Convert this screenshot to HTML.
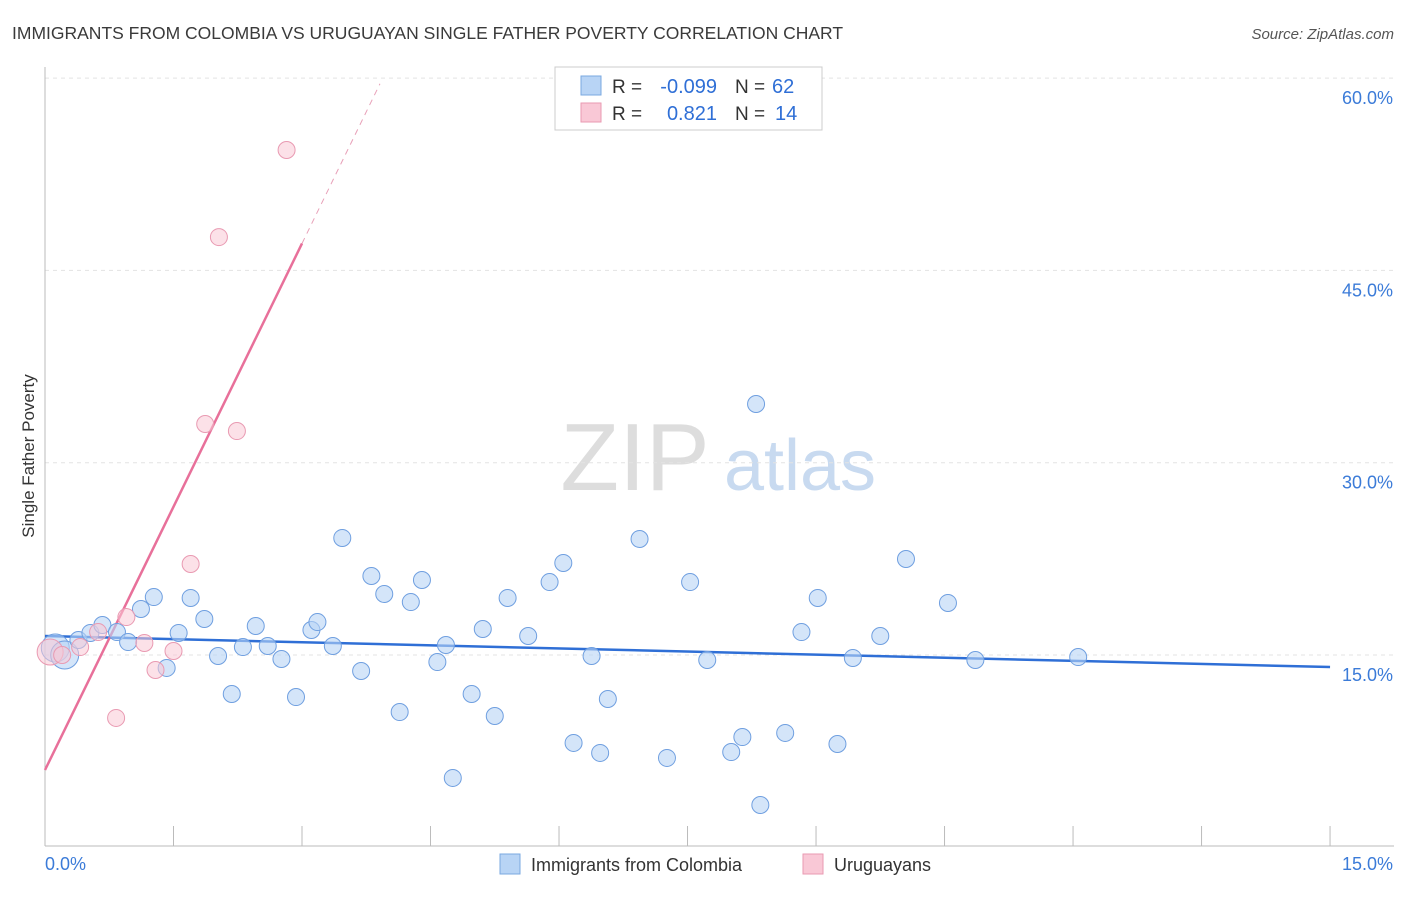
<!DOCTYPE html>
<html><head><meta charset="utf-8"><style>
body{margin:0;background:#fff;font-family:"Liberation Sans",sans-serif}
svg text{font-family:"Liberation Sans",sans-serif}
</style></head><body>
<svg id="chart" width="1406" height="892" viewBox="0 0 1406 892" xmlns="http://www.w3.org/2000/svg">
<text x="12" y="39" font-size="17.5" fill="#3a3a3a">IMMIGRANTS FROM COLOMBIA VS URUGUAYAN SINGLE FATHER POVERTY CORRELATION CHART</text>
<text x="1394" y="39" font-size="15" fill="#555" text-anchor="end" font-style="italic">Source: ZipAtlas.com</text>
<text transform="translate(34,456) rotate(-90)" font-size="17" fill="#333" text-anchor="middle">Single Father Poverty</text>
<g>
<text x="635" y="490" font-size="96" fill="#ddd" font-family="Liberation Serif" text-anchor="middle">ZIP</text>
<text x="800" y="490" font-size="72" fill="#c8daf0" text-anchor="middle">atlas</text>
</g>
<g id="grid"></g><g id="axes"></g><g id="trend"></g><g id="points"></g>
<g>
<rect x="555" y="67" width="267" height="63" fill="#fff" stroke="#ccc"/>
<rect x="581" y="76" width="20" height="19" fill="#b8d4f5" stroke="#7aa8e0"/>
<text x="612" y="93" font-size="19" fill="#333">R =</text>
<text x="717" y="93" font-size="20" fill="#2f6fd6" text-anchor="end">-0.099</text>
<text x="735" y="93" font-size="19" fill="#333">N =</text>
<text x="772" y="93" font-size="20" fill="#2f6fd6">62</text>
<rect x="581" y="103" width="20" height="19" fill="#f9c8d6" stroke="#e99ab2"/>
<text x="612" y="120" font-size="19" fill="#333">R =</text>
<text x="717" y="120" font-size="20" fill="#2f6fd6" text-anchor="end">0.821</text>
<text x="735" y="120" font-size="19" fill="#333">N =</text>
<text x="775" y="120" font-size="20" fill="#2f6fd6">14</text>
</g>
<g>
<rect x="500" y="854" width="20" height="20" fill="#b8d4f5" stroke="#7aa8e0"/>
<text x="531" y="871" font-size="18" fill="#333">Immigrants from Colombia</text>
<rect x="803" y="854" width="20" height="20" fill="#f9c8d6" stroke="#e99ab2"/>
<text x="834" y="871" font-size="18" fill="#333">Uruguayans</text>
</g>
</svg>
<script>
const blueX=[0.12,0.23,0.39,0.53,0.67,0.84,0.97,1.12,1.27,1.42,1.56,1.70,1.86,2.02,2.18,2.31,2.46,2.60,2.76,2.93,3.11,3.18,3.36,3.47,3.69,3.81,3.96,4.14,4.27,4.40,4.58,4.68,4.76,4.98,5.11,5.25,5.40,5.64,5.89,6.05,6.17,6.38,6.48,6.57,6.94,7.26,7.53,7.73,8.01,8.14,8.30,8.35,8.64,8.83,9.02,9.25,9.43,9.75,10.05,10.54,10.86,12.06];
const blueY=[15.55,15.0,16.17,16.72,17.34,16.79,16.01,18.59,19.52,13.99,16.72,19.45,17.81,14.92,11.96,15.62,17.26,15.70,14.69,11.72,16.95,17.57,15.70,24.13,13.75,21.16,19.76,10.55,19.13,20.85,14.45,15.78,5.41,11.96,17.03,10.24,19.45,16.48,20.69,22.18,8.14,14.92,7.36,11.57,24.05,6.97,20.69,14.61,7.43,8.60,34.58,3.30,8.92,16.79,19.45,8.06,14.77,16.48,22.49,19.06,14.61,14.84];
const pinkX=[0.06,0.20,0.41,0.62,0.83,0.95,1.16,1.29,1.50,1.70,1.87,2.03,2.24,2.82];
const pinkY=[15.23,15.0,15.62,16.79,10.09,17.96,15.94,13.83,15.31,22.10,33.02,47.60,32.47,54.39];
const xTicks=[0,1.5,3,4.5,6,7.5,9,10.5,12,13.5,15];
const yTicks=[15,30,45,60];
const yTickLabels=["15.0%","30.0%","45.0%","60.0%"];
const blueTrend=[16.48,14.06];
const pinkTrend=[6.03,13.69];
const NS="http://www.w3.org/2000/svg";
const sx=v=>45+v*85.67, sy=v=>655-(v-15)*12.82;
function mk(tag,attrs,parent){const e=document.createElementNS(NS,tag);for(const k in attrs)e.setAttribute(k,attrs[k]);document.getElementById(parent).appendChild(e);return e;}
yTicks.forEach((t,i)=>{
 const l=mk('line',{x1:45,x2:1394,y1:sy(t),y2:sy(t),stroke:'#e3e3e3','stroke-dasharray':'4,4'},'grid');
 
 
 const tx=mk('text',{x:1393,y:sy(t)+26,'font-size':18,fill:'#3b7bd8','text-anchor':'end'},'grid');
 tx.textContent=yTickLabels[i];
 
 
});
const ax=mk('line',{x1:45,x2:45,y1:67,y2:846,stroke:'#bbb'},'axes');


const bx=mk('line',{x1:45,x2:1394,y1:846,y2:846,stroke:'#bbb'},'axes');


xTicks.forEach(t=>{const l=mk('line',{x1:sx(t),x2:sx(t),y1:826,y2:846,stroke:'#bbb'},'axes');
 
 });
const xl0=mk('text',{x:45,y:870,'font-size':18,fill:'#3b7bd8'},'axes');xl0.textContent='0.0%';


const xl1=mk('text',{x:1393,y:870,'font-size':18,fill:'#3b7bd8','text-anchor':'end'},'axes');xl1.textContent='15.0%';


const bt=mk('line',{x1:sx(0),y1:sy(blueTrend[0]),x2:sx(15),y2:sy(blueTrend[1]),stroke:'#2f6fd6','stroke-width':2.5},'trend');


const pe=3.0, pd=3.91;
const pt=mk('line',{x1:sx(0),y1:sy(pinkTrend[0]),x2:sx(pe),y2:sy(pinkTrend[0]+pinkTrend[1]*pe),stroke:'#e8709a','stroke-width':2.5},'trend');


const pdl=mk('line',{x1:sx(pe),y1:sy(pinkTrend[0]+pinkTrend[1]*pe),x2:sx(pd),y2:sy(pinkTrend[0]+pinkTrend[1]*pd),stroke:'#e8a0b8','stroke-width':1,'stroke-dasharray':'6,5'},'trend');


blueX.forEach((x,i)=>{const r=i<2?14:8.5;
 const c=mk('circle',{cx:sx(x),cy:sy(blueY[i]),r:r,fill:'rgba(184,212,245,0.6)',stroke:'#6f9fe0','stroke-width':1},'points');
 
 });
pinkX.forEach((x,i)=>{const r=i<1?13:8.5;
 const c=mk('circle',{cx:sx(x),cy:sy(pinkY[i]),r:r,fill:'rgba(249,200,214,0.55)',stroke:'#e99ab2','stroke-width':1},'points');
 
 });
</script>
</body></html>
